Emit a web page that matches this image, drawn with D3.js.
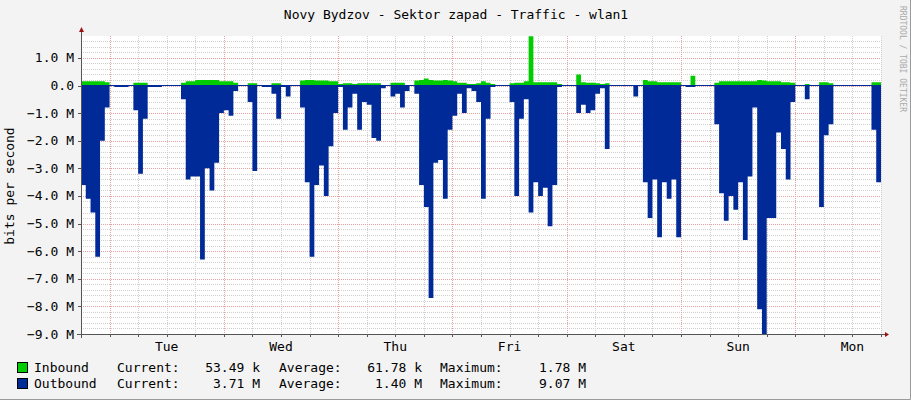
<!DOCTYPE html>
<html><head><meta charset="utf-8">
<script src="https://cdn.jsdelivr.net/npm/d3@7"></script>
<style>body{margin:0;background:#f3f3f3}svg{display:block}text{font-family:"DejaVu Sans Mono",monospace}</style>
</head><body><svg id="c" width="911" height="400"></svg>
<script>
const title = "Novy Bydzov - Sektor zapad - Traffic - wlan1";
const dayLabels = ["Tue","Wed","Thu","Fri","Sat","Sun","Mon"];
const dayNoonHours = [18,42,66,90,114,138,162];
const yTicks = [1,0,-1,-2,-3,-4,-5,-6,-7,-8,-9];
// hourly values in M bit/s, starting Mon 18:00
const outbound = [3.6,4.1,4.6,6.2,2.0,0.8,0,0.05,0.05,0.05,
0.02,0.9,3.2,1.2,0.05,0.05,0.05,0.02,0,0,
0,0.5,3.4,3.3,3.3,6.3,3.0,3.8,2.8,1.0,
0.9,1.1,0.2,0,0.02,0.6,3.1,0.02,0.05,0.05,
0.3,1.2,0.05,0.4,0.02,0,0.8,3.5,6.2,3.6,
2.9,4.0,2.2,1.0,0.05,1.6,0.8,0.3,1.6,0.6,
0.7,1.9,2.0,0.1,0,0.4,0.3,0.8,0.2,0,
0.3,3.6,4.4,7.7,2.8,2.7,4.1,1.6,1.1,0.3,
1.0,0.1,0.2,0.6,4.1,1.2,0.05,0.02,0,0,
0.6,4.0,1.2,0.5,4.6,3.5,4.0,3.7,5.1,3.6,
0.05,0,0,0,1.0,0.7,1.0,0.9,0.3,0.1,
2.3,0,0,0,0,0,0.4,0,3.5,4.8,
3.4,5.5,3.5,4.1,3.4,5.5,0.02,0.05,0.05,0,
0,0,0,1.4,3.9,4.9,4.0,4.5,3.5,5.6,
3.3,0.8,8.1,9.0,4.8,4.8,1.7,2.3,3.4,0.6,
0,0,0.5,0,0,4.4,1.8,1.4,0,0,
0,0,0,0,0,0,1.6,3.5];
const inbound = [.15,.15,.15,.15,.15,.12,.02,.02,.02,.02,
.02,.1,.1,.1,.01,.01,.01,.01,.01,.01,
.01,.1,.15,.15,.2,.2,.2,.2,.2,.15,
.15,.15,.1,.02,.02,.08,.08,.02,.02,.02,
.08,.08,.02,.02,.02,.01,.18,.2,.2,.18,
.18,.18,.15,.15,.05,.08,.08,.05,.08,.08,
.08,.08,.08,.02,.02,.1,.1,.1,.02,.02,
.18,.2,.25,.2,.18,.18,.2,.18,.15,.1,
.1,.05,.05,.08,.15,.1,.05,.02,.01,.01,
.08,.1,.1,.15,1.78,.12,.12,.12,.12,.12,
.05,.01,.01,.01,.4,.12,.1,.1,.08,.05,
.08,.01,.01,.01,.01,.01,.01,.01,.2,.15,
.15,.12,.12,.12,.12,.12,.02,.02,.35,.01,
.01,.01,.01,.1,.15,.15,.15,.15,.15,.15,
.15,.15,.2,.18,.15,.15,.15,.12,.12,.1,
.01,.01,.05,.01,.01,.12,.12,.08,.01,.01,
.01,.01,.01,.01,.01,.01,.12,.12];
const legend = [
 {name:"Inbound", color:"#00cc00", cur:"53.49 k", avg:"61.78 k", max:"1.78 M"},
 {name:"Outbound", color:"#002a97", cur:"3.71 M", avg:"1.40 M", max:"9.07 M"}];

const svg = d3.select("#c");
const L=81,R=881,T=36,B=334;
const x = d3.scaleLinear().domain([0,168]).range([L,R]);
const y = d3.scaleLinear().domain([-9,0]).range([B,85.5]);
svg.append("rect").attr("x",0).attr("y",0).attr("width",911).attr("height",400).attr("fill","#f3f3f3");
svg.append("path").attr("d","M910.5,0V399.5H0").attr("stroke","#9a9a9a").attr("fill","none");
svg.append("rect").attr("x",L).attr("y",T).attr("width",R-L).attr("height",B-T).attr("fill","#fff");
const g = svg.append("g");
for(let v=-9; v<=1.8; v+=0.2){ const vv=Math.round(v*10)/10; if(Math.abs(vv-Math.round(vv))<1e-6) continue;
  g.append("line").attr("x1",L).attr("x2",R).attr("y1",Math.round(y(vv))+.5).attr("y2",Math.round(y(vv))+.5).attr("stroke","#d0d0d0").attr("stroke-dasharray","1,1");}
for(let h=0; h<=168; h+=6){ if((h+18)%24===0) continue;
  g.append("line").attr("y1",T).attr("y2",B).attr("x1",Math.round(x(h))+.5).attr("x2",Math.round(x(h))+.5).attr("stroke","#d0d0d0").attr("stroke-dasharray","1,1");}
yTicks.forEach(v=>g.append("line").attr("x1",L).attr("x2",R).attr("y1",Math.round(y(v))+.5).attr("y2",Math.round(y(v))+.5).attr("stroke","#e8a0a0").attr("stroke-dasharray","1,1"));
for(let h=6; h<168; h+=24) g.append("line").attr("y1",T).attr("y2",B).attr("x1",Math.round(x(h))+.5).attr("x2",Math.round(x(h))+.5).attr("stroke","#e8a0a0").attr("stroke-dasharray","1,1");
const pts = d=>d.map((v,i)=>[i,v]).concat([[168,d[d.length-1]]]);
const areaIn = d3.area().x(d=>x(d[0])).y0(y(0)).y1(d=>y(d[1])).curve(d3.curveStepAfter);
const areaOut = d3.area().x(d=>x(d[0])).y0(y(0)).y1(d=>y(-d[1])).curve(d3.curveStepAfter);
svg.append("path").attr("d",areaIn(pts(inbound))).attr("fill","#00cc00");
svg.append("path").attr("d",areaOut(pts(outbound))).attr("fill","#002a97");
svg.append("line").attr("x1",L).attr("x2",R).attr("y1",y(0)).attr("y2",y(0)).attr("stroke","#002a97");
svg.append("line").attr("x1",L-4).attr("x2",885).attr("y1",B+.5).attr("y2",B+.5).attr("stroke","#555");
svg.append("line").attr("x1",L+.5).attr("x2",L+.5).attr("y1",B+4).attr("y2",30).attr("stroke","#555");
svg.append("path").attr("d",`M885,${B-2}L889,${B+.5}L885,${B+3}Z`).attr("fill","#a01010");
svg.append("path").attr("d",`M${L-2},32L${L+.5},27L${L+3},32Z`).attr("fill","#a01010");
yTicks.forEach(v=>{svg.append("line").attr("x1",L-3).attr("x2",L).attr("y1",Math.round(y(v))+.5).attr("y2",Math.round(y(v))+.5).attr("stroke","#555");
 svg.append("text").attr("x",74).attr("y",y(v)+4.5).attr("text-anchor","end").attr("font-size",13).attr("fill","#000").text(v===0?"0.0":d3.format(".1f")(v)+" M");});
for(let h=0; h<=168; h+=6) svg.append("line").attr("y1",B).attr("y2",B+3).attr("x1",Math.round(x(h))+.5).attr("x2",Math.round(x(h))+.5).attr("stroke","#555");
dayLabels.forEach((d,i)=>svg.append("text").attr("x",x(dayNoonHours[i])).attr("y",351).attr("text-anchor","middle").attr("font-size",13).text(d));
svg.append("text").attr("x",456).attr("y",19).attr("text-anchor","middle").attr("font-size",13).text(title);
svg.append("text").attr("transform","translate(14,186) rotate(-90)").attr("text-anchor","middle").attr("font-size",13).text("bits per second");
svg.append("text").attr("transform","translate(900,6) rotate(90)").attr("font-size",8).attr("fill","#aaa").text("RRDTOOL / TOBI OETIKER");
legend.forEach((l,i)=>{const yy=372+i*16;
 svg.append("rect").attr("x",17.5).attr("y",yy-9.5).attr("width",10).attr("height",10).attr("fill",l.color).attr("stroke","#000");
 svg.append("text").attr("x",34).attr("y",yy).attr("font-size",13).text(l.name);
 svg.append("text").attr("x",117).attr("y",yy).attr("font-size",13).text("Current:");
 svg.append("text").attr("x",260).attr("y",yy).attr("text-anchor","end").attr("font-size",13).text(l.cur);
 svg.append("text").attr("x",279).attr("y",yy).attr("font-size",13).text("Average:");
 svg.append("text").attr("x",422).attr("y",yy).attr("text-anchor","end").attr("font-size",13).text(l.avg);
 svg.append("text").attr("x",440).attr("y",yy).attr("font-size",13).text("Maximum:");
 svg.append("text").attr("x",586).attr("y",yy).attr("text-anchor","end").attr("font-size",13).text(l.max);});
</script></body></html>
